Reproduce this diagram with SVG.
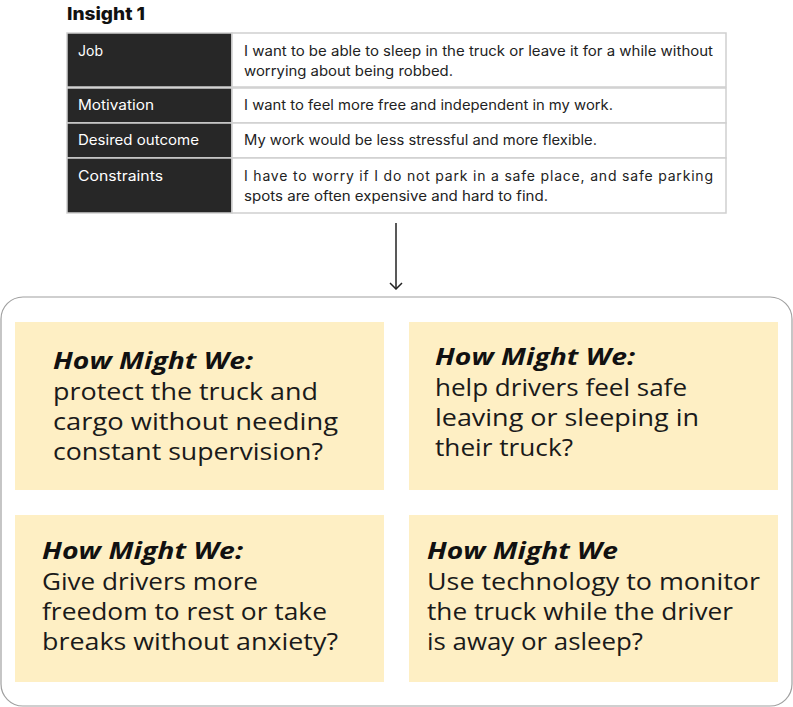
<svg xmlns="http://www.w3.org/2000/svg" width="793" height="707" viewBox="0 0 793 707">
<style>
.title{font-family:Inter,"Noto Sans",sans-serif;font-weight:800;font-size:18px;fill:#111}
.lab{font-family:Inter,"Noto Sans",sans-serif;font-size:14px;fill:#fff}
.val{font-family:Inter,"Noto Sans",sans-serif;font-size:14px;fill:#222}
.dark{fill:#272727;stroke:#cfcfcf;stroke-width:1.5}
.light{fill:#fff;stroke:#cfcfcf;stroke-width:1.5}
.card{fill:#FEEFC4}
.hmw{font-family:"Open Sans","Noto Sans",sans-serif;font-weight:700;font-style:italic;font-size:23px;fill:#111}
.body{font-family:"Open Sans","Noto Sans",sans-serif;font-size:24px;fill:#1a1a1a}
.conn{stroke:#222;stroke-width:1.5;fill:none}
</style>
<defs>
<marker id="arr" viewBox="0 0 12 14" refX="11" refY="7" markerWidth="12" markerHeight="14" markerUnits="userSpaceOnUse" orient="auto">
<path d="M5,1 L11,7 L5,13" fill="none" stroke="#222" stroke-width="1.5"/>
</marker>
</defs>

<g id="insight-table">
<text class="title" x="67" y="20" textLength="78" lengthAdjust="spacingAndGlyphs">Insight 1</text>
<rect class="dark" x="67" y="33" width="165" height="54"/>
<rect class="light" x="232" y="33" width="494" height="54"/>
<rect class="dark" x="67" y="88" width="165" height="35"/>
<rect class="light" x="232" y="88" width="494" height="35"/>
<rect class="dark" x="67" y="123" width="165" height="35"/>
<rect class="light" x="232" y="123" width="494" height="35"/>
<rect class="dark" x="67" y="158" width="165" height="55"/>
<rect class="light" x="232" y="158" width="494" height="55"/>
<text class="lab" x="78" y="56" textLength="25" lengthAdjust="spacingAndGlyphs">Job</text>
<text class="lab" x="78" y="110" textLength="76" lengthAdjust="spacingAndGlyphs">Motivation</text>
<text class="lab" x="78" y="145" textLength="121" lengthAdjust="spacingAndGlyphs">Desired outcome</text>
<text class="lab" x="78" y="181" textLength="85" lengthAdjust="spacingAndGlyphs">Constraints</text>
<text class="val" x="244" y="56" textLength="469" lengthAdjust="spacingAndGlyphs">I want to be able to sleep in the truck or leave it for a while without</text>
<text class="val" x="244" y="76" textLength="209" lengthAdjust="spacingAndGlyphs">worrying about being robbed.</text>
<text class="val" x="244" y="110" textLength="369" lengthAdjust="spacingAndGlyphs">I want to feel more free and independent in my work.</text>
<text class="val" x="244" y="145" textLength="353" lengthAdjust="spacingAndGlyphs">My work would be less stressful and more flexible.</text>
<text class="val" x="244" y="181" textLength="469" lengthAdjust="spacing">I have to worry if I do not park in a safe place, and safe parking</text>
<text class="val" x="244" y="201" textLength="304" lengthAdjust="spacingAndGlyphs">spots are often expensive and hard to find.</text>
</g>

<g id="connectors">
<line class="conn" x1="396" y1="223" x2="396" y2="289" marker-end="url(#arr)"/>
</g>

<g id="hmw-container">
<rect x="1" y="297" width="791" height="409" rx="22" ry="22" fill="#fff" stroke="#a0a0a0" stroke-width="1.2"/>
</g>

<g id="hmw-1">
<rect class="card" x="15" y="322" width="369" height="168"/>
<text class="hmw" x="53" y="369" textLength="200" lengthAdjust="spacingAndGlyphs">How Might We:</text>
<text class="body" x="53" y="400" textLength="265" lengthAdjust="spacingAndGlyphs">protect the truck and</text>
<text class="body" x="53" y="430" textLength="285" lengthAdjust="spacingAndGlyphs">cargo without needing</text>
<text class="body" x="53" y="460" textLength="270" lengthAdjust="spacingAndGlyphs">constant supervision?</text>
</g>

<g id="hmw-2">
<rect class="card" x="409" y="322" width="369" height="168"/>
<text class="hmw" x="435" y="365" textLength="200" lengthAdjust="spacingAndGlyphs">How Might We:</text>
<text class="body" x="435" y="396" textLength="252" lengthAdjust="spacingAndGlyphs">help drivers feel safe</text>
<text class="body" x="435" y="426" textLength="264" lengthAdjust="spacingAndGlyphs">leaving or sleeping in</text>
<text class="body" x="435" y="456" textLength="138" lengthAdjust="spacingAndGlyphs">their truck?</text>
</g>

<g id="hmw-3">
<rect class="card" x="15" y="515" width="369" height="167"/>
<text class="hmw" x="42" y="559" textLength="201" lengthAdjust="spacingAndGlyphs">How Might We:</text>
<text class="body" x="42" y="590" textLength="216" lengthAdjust="spacingAndGlyphs">Give drivers more</text>
<text class="body" x="42" y="620" textLength="285" lengthAdjust="spacingAndGlyphs">freedom to rest or take</text>
<text class="body" x="42" y="650" textLength="296" lengthAdjust="spacingAndGlyphs">breaks without anxiety?</text>
</g>

<g id="hmw-4">
<rect class="card" x="409" y="515" width="369" height="167"/>
<text class="hmw" x="427" y="559" textLength="191" lengthAdjust="spacingAndGlyphs">How Might We</text>
<text class="body" x="427" y="590" textLength="333" lengthAdjust="spacingAndGlyphs">Use technology to monitor</text>
<text class="body" x="427" y="620" textLength="306" lengthAdjust="spacingAndGlyphs">the truck while the driver</text>
<text class="body" x="427" y="650" textLength="216" lengthAdjust="spacingAndGlyphs">is away or asleep?</text>
</g>
</svg>
